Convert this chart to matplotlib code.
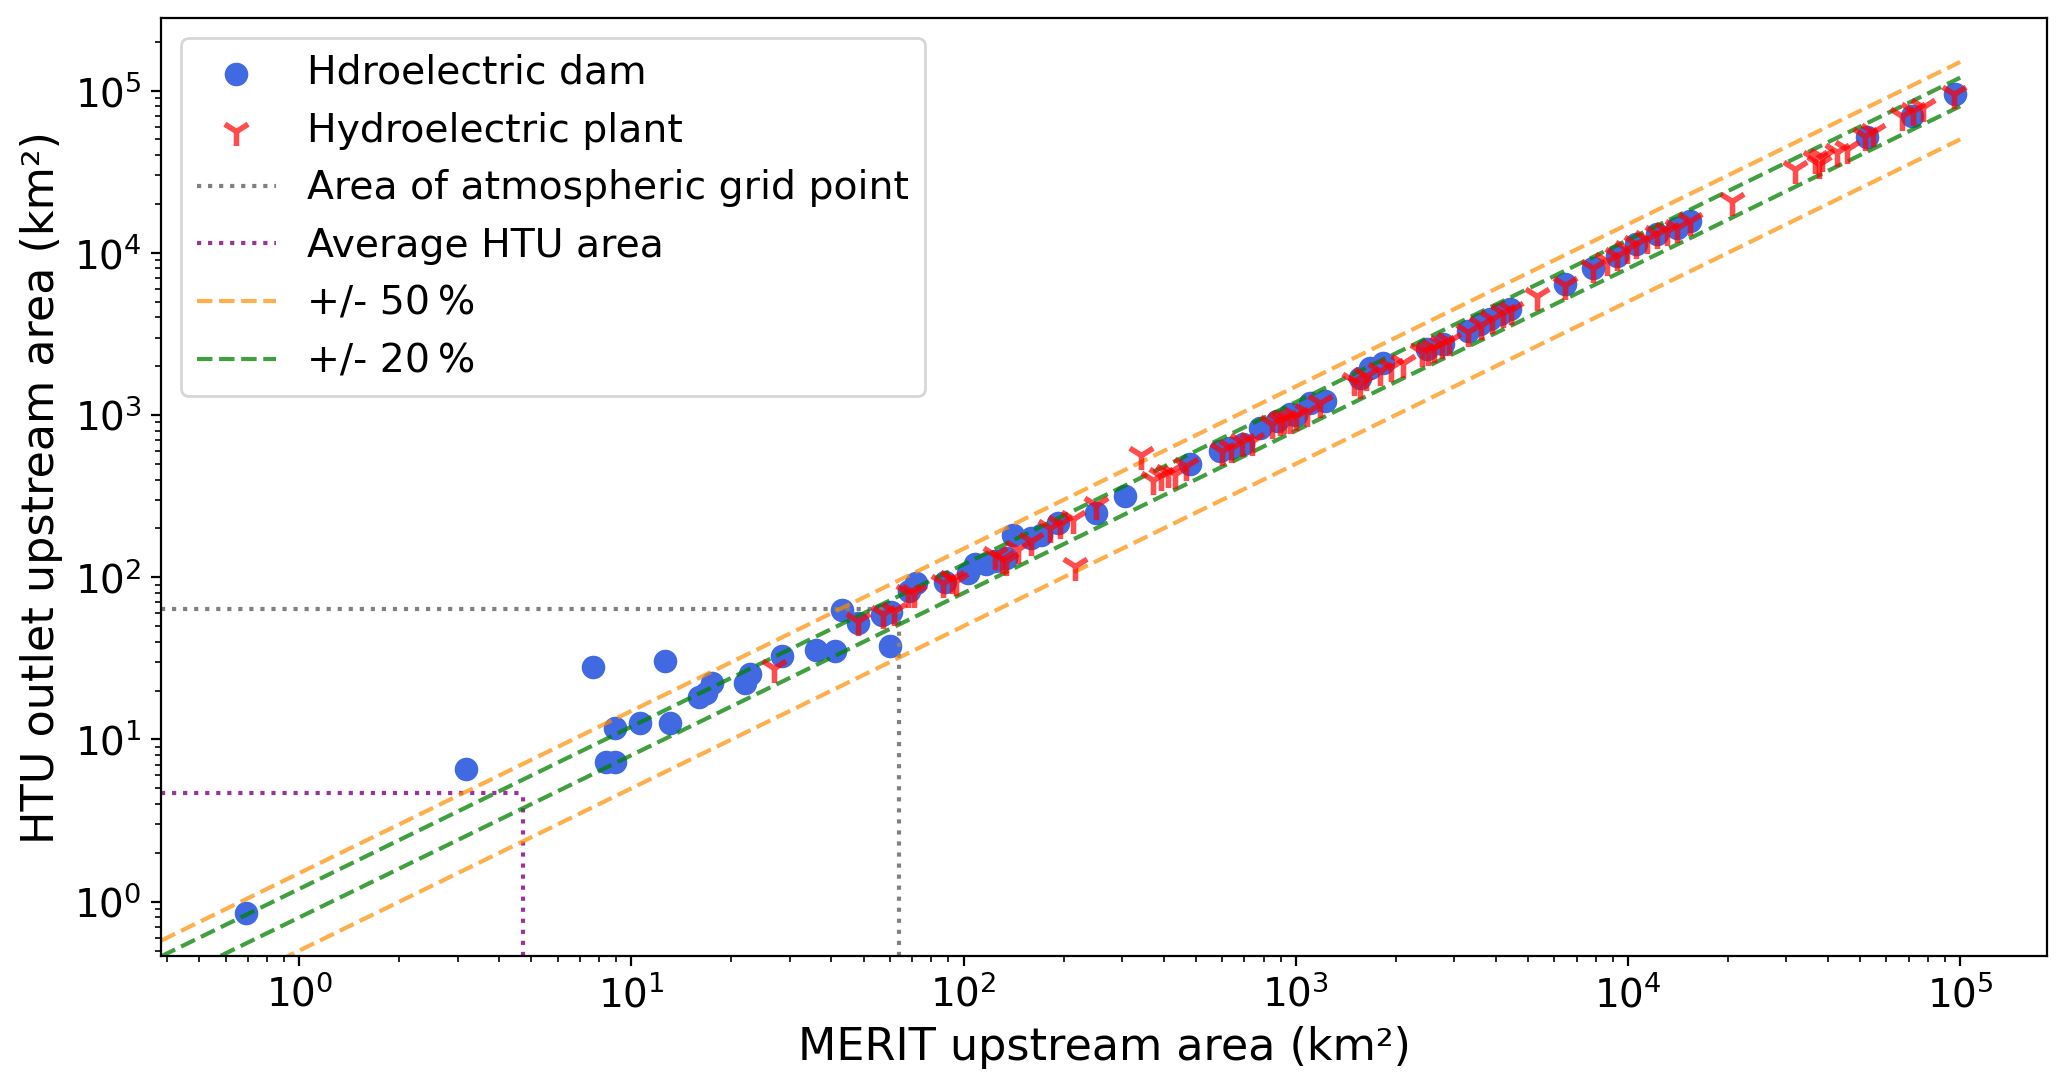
import numpy as np
import matplotlib
matplotlib.use("Agg")
from matplotlib import pyplot as plt

# hydroelectric dams (MERIT area, HTU area) in km2
dam_x = [0.69, 3.17, 7.65, 8.4, 8.9, 8.9, 10.6, 12.6, 13.1, 16.0, 16.8, 17.5,
         22.0, 22.7, 28.3, 36.0, 41.0, 43.0, 48.0, 56.9, 60.6, 60.0, 68.6, 71.9,
         88.0, 103, 108, 117, 124, 134, 141, 160, 171, 192, 251, 305, 480, 590,
         632, 692, 780, 875, 960, 1000, 1100, 1220, 1560, 1670, 1830, 2480, 2780,
         3300, 3580, 3840, 4110, 4410, 6460, 7870, 9250, 10600, 12200, 14000,
         15400, 52300, 71600, 96600]
dam_y = [0.85, 6.56, 27.8, 7.3, 7.3, 11.7, 12.6, 30.3, 12.6, 18.4, 19.3, 22.3,
         22.3, 25.4, 32.9, 35.7, 34.9, 62.6, 52.0, 58.7, 61.0, 37.5, 81.9, 92.0,
         94.0, 106, 120, 120, 126, 132, 183, 175, 183, 216, 250, 316, 496, 600,
         628, 661, 835, 920, 1010, 1000, 1190, 1220, 1700, 1960, 2100, 2540, 2730,
         3300, 3630, 3900, 4180, 4490, 6410, 8110, 9570, 11300, 13000, 14300,
         15800, 51500, 70100, 95500]

# hydroelectric plants
plant_x = [26.9, 48, 57, 61.5, 68, 71, 86.5, 92, 95, 124, 130, 134, 146, 160,
           182, 195, 213, 216, 251, 343, 372, 394, 412, 432, 468, 600, 640, 690,
           740, 850, 895, 920, 960, 1000, 1080, 1180, 1500, 1560, 1630, 1790,
           1940, 2100, 2400, 2500, 2600, 2750, 2900, 3300, 3600, 3900, 4200, 4450,
           5310, 6460, 7870, 8630, 9250, 9900, 10600, 11400, 12200, 13100, 14000,
           15400, 20500, 31800, 36600, 37500, 38300, 42500, 45600, 51700, 54800,
           66700, 72300, 77500, 96000]
plant_y = [27.6, 53.5, 59, 62, 80, 80, 92, 97, 95, 138, 130, 126, 150, 167,
           202, 212, 230, 117, 280, 570, 400, 420, 440, 430, 484, 600, 628, 680,
           690, 880, 920, 950, 945, 985, 1050, 1180, 1620, 1560, 1740, 1860,
           1990, 2100, 2450, 2480, 2600, 2750, 2850, 3250, 3600, 3900, 4250, 4450,
           5430, 6300, 8000, 8930, 9570, 10500, 11300, 12100, 13000, 13700, 14300,
           15800, 20900, 32800, 37900, 35500, 38700, 41600, 43600, 52700, 55300,
           70100, 75300, 78900, 95000]

grid_area = 64.0   # area of atmospheric grid point
htu_area = 4.7     # average HTU area
xlim = (0.384, 1.83e5)
ylim = (0.464, 2.78e5)

line_x = np.array([xlim[0], 1e5])

fig = plt.figure(figsize=(10.335, 5.44), dpi=200)
ax = fig.add_subplot(111)
fig.subplots_adjust(left=0.078, right=0.9905, top=0.983, bottom=0.1215)

ax.scatter(dam_x, dam_y, s=56, color='royalblue', label='Hdroelectric dam', zorder=2)
ax.scatter(plant_x, plant_y, s=110, marker='1', color='red', alpha=0.7,
           linewidths=2, label='Hydroelectric plant', zorder=3)

ax.plot([xlim[0], grid_area], [grid_area, grid_area], ':', color='gray', lw=1.5,
        label='Area of atmospheric grid point')
ax.plot([grid_area, grid_area], [ylim[0], grid_area], ':', color='gray', lw=1.5)
ax.plot([xlim[0], htu_area], [htu_area, htu_area], ':', color='purple', lw=1.5,
        alpha=0.8, label='Average HTU area')
ax.plot([htu_area, htu_area], [ylim[0], htu_area], ':', color='purple', lw=1.5, alpha=0.8)

ax.plot(line_x, 1.5 * line_x, '--', color='darkorange', alpha=0.7, lw=1.5,
        label='+/- 50\u2009%')
ax.plot(line_x, 0.5 * line_x, '--', color='darkorange', alpha=0.7, lw=1.5)
ax.plot(line_x, 1.2 * line_x, '--', color='green', alpha=0.75, lw=1.5,
        label='+/- 20\u2009%')
ax.plot(line_x, 0.8 * line_x, '--', color='green', alpha=0.75, lw=1.5)

ax.set_xscale('log')
ax.set_yscale('log')
ax.set_xlim(xlim)
ax.set_ylim(ylim)
ax.tick_params(labelsize=14)
ax.set_xlabel('MERIT upstream area (km²)', fontsize=16)
ax.set_ylabel('HTU outlet upstream area (km²)', fontsize=16)
ax.legend(loc='upper left', fontsize=14.2)

fig.savefig('out.png', dpi=200)
